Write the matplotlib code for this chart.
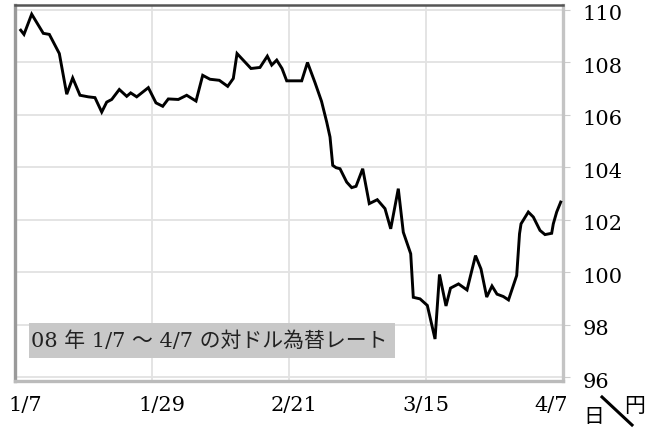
import matplotlib
matplotlib.use("Agg")
import matplotlib.pyplot as plt
import matplotlib.transforms as mtransforms
from matplotlib.lines import Line2D
from matplotlib.patches import Rectangle

# day offset from 1/7 and USD/JPY rate
days = [0.95, 1.49, 2.77, 4.70, 5.70, 6.36, 7.36, 8.59, 9.58, 10.79, 12.17, 13.28,
        14.40, 15.23, 16.06, 17.32, 18.55, 19.21, 20.21, 22.14, 23.41, 24.53, 25.46,
        27.12, 28.51, 30.06, 31.17, 32.38, 33.93, 35.32, 36.25, 36.87, 39.19, 40.68,
        41.90, 42.63, 43.46, 44.34, 45.12, 47.61, 48.57, 49.82, 50.90, 51.76, 52.31,
        52.76, 53.31, 53.97, 55.08, 55.91, 56.63, 57.74, 58.83, 60.16, 61.44, 62.39,
        63.65, 64.48, 65.71, 66.14, 67.26, 68.47, 69.75, 70.49, 71.57, 72.32, 73.65,
        75.06, 76.47, 77.38, 78.33, 79.21, 80.04, 81.09, 81.95, 83.31, 83.78, 84.03,
        85.24, 86.07, 87.18, 88.01, 89.12, 89.39, 89.95, 90.62]
rates = [109.22, 109.06, 109.83, 109.10, 109.06, 108.77, 108.33, 106.78, 107.40, 106.74,
         106.68, 106.65, 106.10, 106.48, 106.58, 106.96, 106.70, 106.83, 106.68, 107.03,
         106.45, 106.32, 106.60, 106.58, 106.74, 106.52, 107.50, 107.35, 107.31, 107.08,
         107.38, 108.33, 107.76, 107.80, 108.23, 107.89, 108.08, 107.76, 107.29, 107.29,
         107.99, 107.22, 106.51, 105.72, 105.15, 104.07, 103.98, 103.94, 103.43, 103.22,
         103.27, 103.94, 102.61, 102.76, 102.42, 101.65, 103.18, 101.52, 100.70, 99.04,
         98.98, 98.73, 97.45, 99.91, 98.71, 99.39, 99.55, 99.32, 100.63, 100.12, 99.05,
         99.47, 99.16, 99.07, 98.94, 99.87, 101.46, 101.84, 102.29, 102.10, 101.59, 101.43,
         101.48, 101.84, 102.29, 102.67]

x_tick_labels = ["1/7", "1/29", "2/21", "3/15", "4/7"]
x_tick_pos = [0, 22.75, 45.5, 68.25, 91]
y_ticks = [96, 98, 100, 102, 104, 106, 108, 110]

title_text = "08 年 1/7 ～ 4/7 の対ドル為替レート"

serif = ["DejaVu Serif", "Noto Sans CJK JP", "DejaVu Sans"]

fig = plt.figure(figsize=(6.48, 4.30), dpi=100)
ax = fig.add_axes([15/648, 1-381/430, (563-15)/648, (381-5)/430])

ax.plot(days, rates, color="black", lw=2.1, solid_joinstyle="miter", zorder=3)

ax.set_xlim(0, 91)
ax.set_ylim(95.85, 110.18)
ax.set_xticks(x_tick_pos)
ax.set_xticklabels(x_tick_labels)
ax.set_yticks(y_ticks)
ax.yaxis.tick_right()
ax.grid(True, color="#e2e2e2", lw=1.3, zorder=0)
ax.tick_params(axis="y", length=5, color="#cccccc", pad=9, labelsize=15, labelcolor="black")
ax.tick_params(axis="x", length=0, pad=11, labelsize=15, labelcolor="black")
yshift = mtransforms.ScaledTranslation(0, -3/100, fig.dpi_scale_trans)
for lab in ax.get_xticklabels() + ax.get_yticklabels():
    lab.set_family(serif)
for lab in ax.get_yticklabels():
    lab.set_transform(lab.get_transform() + yshift)
x_label_nudge_px = [10, 10, 5, 0, -12]
for lab, dx in zip(ax.get_xticklabels(), x_label_nudge_px):
    lab.set_transform(lab.get_transform() +
                      mtransforms.ScaledTranslation(dx/100, 0, fig.dpi_scale_trans))

ax.spines["top"].set_color("#555555")
ax.spines["top"].set_linewidth(1.8)
ax.spines["left"].set_color("#9a9a9a")
ax.spines["left"].set_linewidth(2.4)
ax.spines["bottom"].set_color("#bbbbbb")
ax.spines["bottom"].set_linewidth(2.4)
ax.spines["right"].set_color("#c4c4c4")
ax.spines["right"].set_linewidth(2.4)

# annotation box
fig.patches.append(Rectangle((29/648, 1-358/430), 366/648, 35/430,
                             transform=fig.transFigure, facecolor="#c8c8c8",
                             edgecolor="none", zorder=5))
fig.text(31/648, 1-341/430, title_text, fontsize=15, family=serif,
         va="center", ha="left", color="#222222", zorder=6)

# unit marker
fig.text(594/648, 1-417/430, "日", fontsize=15, family=["Noto Sans CJK JP"],
         ha="center", va="center")
fig.text(635/648, 1-406/430, "円", fontsize=15, family=["Noto Sans CJK JP"],
         ha="center", va="center")
fig.lines.append(Line2D([602/648, 632/648], [1-397/430, 1-425/430],
                        transform=fig.transFigure, color="black", lw=2.2))

fig.savefig("out.png", dpi=100)
